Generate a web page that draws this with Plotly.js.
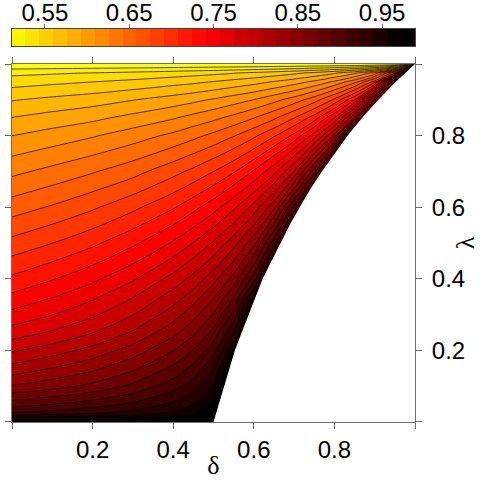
<!DOCTYPE html>
<html><head><meta charset="utf-8">
<script src="https://cdn.plot.ly/plotly-3.0.1.min.js"></script>
<style>html,body{margin:0;padding:0;background:#fff}#chart{width:480px;height:480px}</style>
</head><body><div id="chart"></div>
<script>
// grid columns (delta) and rows (lambda)
const delta = [0, 0.1, 0.2, 0.3, 0.4, 0.45, 0.5, 0.55, 0.6, 0.65, 0.7, 0.75, 0.8, 0.85, 0.9, 0.95, 1];
const lambda = [0, 0.025, 0.05, 0.1, 0.15, 0.2, 0.25, 0.3, 0.35, 0.4, 0.5, 0.6, 0.7, 0.8, 0.85, 0.9, 0.95, 0.975, 1];
// z (null = outside the feasible region, drawn white)
const zValues = [
  [0.99, 0.99, 0.99, 0.99, 0.99, 0.99, 0.99, null, null, null, null, null, null, null, null, null, null],
  [0.924, 0.930, 0.937, 0.946, 0.960, 0.970, 0.99, null, null, null, null, null, null, null, null, null, null],
  [0.898, 0.906, 0.915, 0.926, 0.943, 0.956, 0.979, null, null, null, null, null, null, null, null, null, null],
  [0.858, 0.867, 0.878, 0.894, 0.916, 0.932, 0.958, null, null, null, null, null, null, null, null, null, null],
  [0.830, 0.841, 0.853, 0.870, 0.894, 0.912, 0.938, null, null, null, null, null, null, null, null, null, null],
  [0.805, 0.816, 0.830, 0.848, 0.873, 0.891, 0.917, 0.972, null, null, null, null, null, null, null, null, null],
  [0.782, 0.793, 0.807, 0.826, 0.852, 0.870, 0.896, 0.939, null, null, null, null, null, null, null, null, null],
  [0.763, 0.774, 0.788, 0.807, 0.833, 0.851, 0.875, 0.912, null, null, null, null, null, null, null, null, null],
  [0.745, 0.757, 0.771, 0.790, 0.815, 0.832, 0.855, 0.888, 0.960, null, null, null, null, null, null, null, null],
  [0.728, 0.740, 0.754, 0.772, 0.797, 0.813, 0.834, 0.864, 0.915, null, null, null, null, null, null, null, null],
  [0.697, 0.708, 0.721, 0.738, 0.760, 0.775, 0.793, 0.817, 0.852, 0.918, null, null, null, null, null, null, null],
  [0.667, 0.677, 0.689, 0.704, 0.723, 0.736, 0.751, 0.771, 0.797, 0.835, 0.912, null, null, null, null, null, null],
  [0.638, 0.647, 0.657, 0.669, 0.686, 0.696, 0.708, 0.723, 0.743, 0.769, 0.808, 0.884, null, null, null, null, null],
  [0.609, 0.616, 0.624, 0.634, 0.646, 0.654, 0.663, 0.674, 0.688, 0.706, 0.729, 0.765, 0.829, null, null, null, null],
  [0.593, 0.599, 0.605, 0.614, 0.624, 0.631, 0.638, 0.647, 0.658, 0.672, 0.691, 0.716, 0.757, 0.845, null, null, null],
  [0.575, 0.580, 0.585, 0.592, 0.600, 0.605, 0.611, 0.618, 0.626, 0.637, 0.650, 0.668, 0.695, 0.741, 0.868, null, null],
  [0.5525, 0.556, 0.5595, 0.564, 0.570, 0.573, 0.577, 0.582, 0.587, 0.594, 0.602, 0.613, 0.629, 0.653, 0.700, 0.900, null],
  [0.5385, 0.541, 0.5435, 0.5466, 0.5505, 0.553, 0.5555, 0.5587, 0.5624, 0.567, 0.5725, 0.580, 0.590, 0.605, 0.632, 0.704, null],
  [0.511, 0.511, 0.511, 0.511, 0.511, 0.511, 0.511, 0.511, 0.511, 0.511, 0.511, 0.511, 0.511, 0.511, 0.511, 0.511, 0.511]
];
// value reached at the edge of the feasible region
const edgeValue = 1.0;
// edge of the feasible region (right of it is blank)
const boundaryLambda = [0, 0.05, 0.1, 0.15, 0.2, 0.25, 0.3, 0.35, 0.4, 0.45, 0.5, 0.55, 0.6, 0.65, 0.7, 0.75, 0.8, 0.85, 0.9, 0.95, 1];
const boundaryDelta  = [0.5, 0.513, 0.526, 0.540, 0.553, 0.570, 0.587, 0.605, 0.622, 0.644, 0.666, 0.689, 0.714, 0.740, 0.769, 0.800, 0.833, 0.869, 0.909, 0.952, 1];
// contour levels and colour key range
const levelStart = 0.5265, levelStep = 0.01652, levelEnd = 0.98;
const keyMin = 0.511, keyMax = 0.989;
const keyTicks = [0.55, 0.65, 0.75, 0.85, 0.95];
const keyTickText = ['0.55', '0.65', '0.75', '0.85', '0.95'];
const axisTicks = [0, 0.2, 0.4, 0.6, 0.8, 1];
const axisTickText = ['', '0.2', '0.4', '0.6', '0.8', ''];

const colorscale = [[0, 'rgb(255,255,0)'], [0.5, 'rgb(255,0,0)'], [1, 'rgb(0,0,0)']];

const zGrid = zValues.map(r => r.map(v => v === null ? edgeValue : v));

// key bands built from the levels
const levels = [];
for (let v = levelStart; v <= levelEnd + 1e-9; v += levelStep) levels.push(v);
const keyEdges = [keyMin].concat(levels, [keyMax]);
const keyMids = [levelStart - levelStep / 2].concat(levels.map(l => l + levelStep / 2));
const cMin = levelStart - levelStep, cMax = levels[levels.length - 1];

const xr = [0, 1], yr = [0, 1], pad = 0.2;
const maskX = boundaryDelta.concat([xr[1] + pad, xr[1] + pad, boundaryDelta[0]]);
const maskY = boundaryLambda.concat([boundaryLambda[boundaryLambda.length - 1], yr[0] - pad, yr[0] - pad]);

const lineCol = '#6e6e6e';
const traces = [
  {type: 'contour', x: delta, y: lambda, z: zGrid, autocontour: false,
   contours: {start: levelStart, end: levelEnd, size: levelStep, coloring: 'fill', showlines: true},
   line: {color: '#000', width: 0.7, smoothing: 0.9},
   colorscale: colorscale, showscale: false, hoverinfo: 'skip'},
  {type: 'scatter', mode: 'lines', x: maskX, y: maskY, fill: 'toself', fillcolor: '#ffffff',
   line: {width: 0, color: '#ffffff'}, hoverinfo: 'skip', showlegend: false},
  {type: 'heatmap', xaxis: 'x2', yaxis: 'y2', x: keyEdges, y: [0, 1], z: [keyMids],
   zmin: cMin, zmax: cMax, colorscale: colorscale, showscale: false, hoverinfo: 'skip'}
];

const layout = {
  width: 480, height: 480,
  margin: {l: 12, r: 65, t: 20, b: 58},
  paper_bgcolor: '#fff', plot_bgcolor: '#fff', showlegend: false,
  font: {family: 'Liberation Sans, Arial, sans-serif', size: 24, color: '#000'},
  xaxis: {domain: [0, 1], range: xr, tickvals: axisTicks, ticktext: axisTickText,
    ticks: 'outside', ticklen: 6, tickcolor: lineCol, showline: true, linecolor: lineCol, linewidth: 1,
    mirror: 'ticks', showgrid: false, zeroline: false,
    title: {text: 'δ', font: {family: 'Liberation Serif, DejaVu Serif, serif', size: 26}, standoff: 0}},
  yaxis: {domain: [0, 0.8905], range: yr, side: 'right', tickvals: axisTicks, ticktext: axisTickText,
    ticks: 'outside', ticklen: 6, tickcolor: lineCol, showline: true, linecolor: lineCol, linewidth: 1,
    mirror: 'ticks', showgrid: false, zeroline: false, ticklabelstandoff: 5,
    title: {text: 'λ', font: {family: 'Liberation Serif, DejaVu Serif, serif', size: 26}, standoff: 0}},
  xaxis2: {anchor: 'y2', domain: [0, 1], range: [keyMin, keyMax], side: 'top',
    tickvals: keyTicks, ticktext: keyTickText, ticks: 'outside', ticklen: 4, tickcolor: lineCol,
    ticklabelstandoff: -7,
    showline: true, linecolor: '#444', mirror: true, showgrid: false, zeroline: false},
  yaxis2: {anchor: 'x2', domain: [0.9353, 0.9776], range: [0, 1], showticklabels: false, ticks: '',
    showline: true, linecolor: '#444', mirror: true, showgrid: false, zeroline: false}
};

Plotly.newPlot('chart', traces, layout, {displayModeBar: false, staticPlot: true});
</script></body></html>
